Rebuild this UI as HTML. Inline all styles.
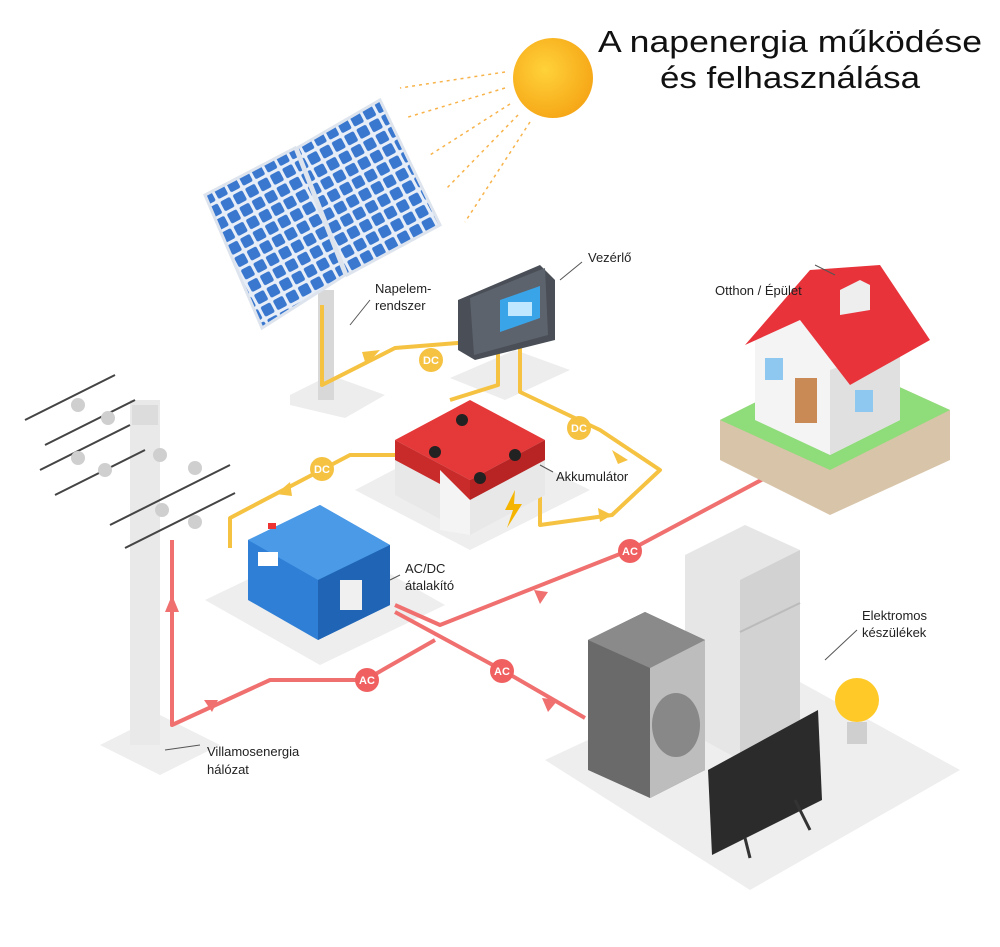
<!DOCTYPE html>
<html><head><meta charset="utf-8"><style>
html,body{margin:0;padding:0;background:#fff;}
svg{display:block;font-family:"Liberation Sans",sans-serif;}
.lbl{font-size:13px;fill:#222;}
.bt{font-size:11px;font-weight:bold;fill:#fff;text-anchor:middle;}
</style></head><body>
<svg width="1000" height="947" viewBox="0 0 1000 947" xmlns="http://www.w3.org/2000/svg">
<defs>
<radialGradient id="sun" cx="0.4" cy="0.4" r="0.7"><stop offset="0" stop-color="#ffd23a"/><stop offset="1" stop-color="#f5a213"/></radialGradient>
<pattern id="cells" width="14" height="14" patternUnits="userSpaceOnUse" patternTransform="rotate(-28)"><rect width="14" height="14" fill="#e8eef8"/><rect x="1.5" y="1.5" width="11" height="11" rx="2" fill="#3a78cf"/></pattern>
</defs>
<rect width="1000" height="947" fill="#fff"/>

<text x="598" y="52" font-size="31" textLength="384" lengthAdjust="spacingAndGlyphs" fill="#111">A napenergia működése</text>
<text x="660" y="88" font-size="31" textLength="260" lengthAdjust="spacingAndGlyphs" fill="#111">és felhasználása</text>

<circle cx="553" cy="78" r="40" fill="url(#sun)"/>
<g stroke="#f7b34a" stroke-width="1.5" stroke-dasharray="3,4" fill="none">
<line x1="505" y1="72" x2="400" y2="88"/><line x1="505" y1="88" x2="405" y2="118"/>
<line x1="510" y1="104" x2="430" y2="155"/><line x1="518" y1="115" x2="445" y2="190"/>
<line x1="530" y1="122" x2="465" y2="222"/>
</g>

<polygon points="290,395 330,375 385,395 345,418 290,405" fill="#ededed"/>
<polygon points="450,378 515,350 570,370 505,400" fill="#ededed"/>
<polygon points="355,490 470,430 590,490 470,550" fill="#eeeeee"/>
<polygon points="205,600 330,540 445,605 320,665" fill="#eeeeee"/>
<polygon points="100,745 160,715 220,745 160,775" fill="#eeeeee"/>
<polygon points="545,760 760,660 960,770 750,890" fill="#eeeeee"/>

<rect x="318" y="290" width="16" height="110" fill="#d8d8d8"/>
<polygon points="205,195 295,148 345,275 262,328" fill="url(#cells)" stroke="#dde4ee" stroke-width="3"/>
<polygon points="297,148 380,100 440,225 347,275" fill="url(#cells)" stroke="#dde4ee" stroke-width="3"/>

<g stroke="#f5c242" stroke-width="4" fill="none" stroke-linejoin="round">
<path d="M322,305 L322,385 L395,348 L470,342"/>
<path d="M520,345 L520,392 L600,430 L660,470 L612,515 L540,525 L540,490"/>
<path d="M395,455 L350,455 L230,518 L230,548"/>
<path d="M498,345 L498,385 L450,400"/>
</g>
<g fill="#f5c242">
<polygon points="380,350 366,365 362,352"/>
<polygon points="628,460 612,450 618,464"/>
<polygon points="612,515 598,508 600,522"/>
<polygon points="276,494 290,482 292,496"/>
</g>
<g fill="#f5c242">
<circle cx="431" cy="360" r="12"/><circle cx="579" cy="428" r="12"/><circle cx="322" cy="469" r="12"/>
</g>
<text class="bt" x="431" y="364">DC</text><text class="bt" x="579" y="432">DC</text><text class="bt" x="322" y="473">DC</text>

<polygon points="458,300 540,265 555,280 555,340 475,360 458,350" fill="#4a4f57"/>
<polygon points="470,298 545,268 548,335 474,355" fill="#5d636c"/>
<polygon points="500,300 540,286 540,318 500,332" fill="#3aa4e8"/>
<rect x="508" y="302" width="24" height="14" fill="#bfe7ff"/>

<polygon points="395,450 470,410 545,445 545,495 470,535 395,495" fill="#e8e8e8"/>
<polygon points="395,440 470,400 545,440 470,480" fill="#e53838"/>
<polygon points="395,440 470,480 470,500 395,460" fill="#c92b2b"/>
<polygon points="470,480 545,440 545,460 470,500" fill="#b82424"/>
<polygon points="440,470 440,530 470,535 470,500" fill="#f4f4f4"/>
<g fill="#222"><circle cx="435" cy="452" r="6"/><circle cx="480" cy="478" r="6"/><circle cx="515" cy="455" r="6"/><circle cx="462" cy="420" r="6"/></g>
<path d="M515,490 L505,510 L513,510 L507,528 L522,504 L514,504 Z" fill="#f5b400"/>

<polygon points="248,540 320,505 390,545 390,605 318,640 248,600" fill="#2f7fd6"/>
<polygon points="248,540 320,505 390,545 318,580" fill="#4a9ae8"/>
<polygon points="318,580 390,545 390,605 318,640" fill="#1f64b5"/>
<rect x="258" y="552" width="20" height="14" fill="#fff"/>
<rect x="340" y="580" width="22" height="30" fill="#f0f0f0"/>
<rect x="268" y="523" width="8" height="6" fill="#e33"/>

<rect x="130" y="400" width="30" height="345" fill="#e9e9e9"/>
<rect x="132" y="405" width="26" height="20" fill="#dcdcdc"/>
<g stroke="#444" stroke-width="2">
<line x1="25" y1="420" x2="115" y2="375"/><line x1="45" y1="445" x2="135" y2="400"/>
<line x1="40" y1="470" x2="130" y2="425"/><line x1="55" y1="495" x2="145" y2="450"/>
<line x1="110" y1="525" x2="230" y2="465"/><line x1="125" y1="548" x2="235" y2="493"/>
</g>
<g fill="#cfcfcf"><circle cx="78" cy="405" r="7"/><circle cx="108" cy="418" r="7"/><circle cx="78" cy="458" r="7"/><circle cx="105" cy="470" r="7"/><circle cx="160" cy="455" r="7"/><circle cx="195" cy="468" r="7"/><circle cx="162" cy="510" r="7"/><circle cx="195" cy="522" r="7"/></g>

<g stroke="#f07070" stroke-width="4" fill="none" stroke-linejoin="round">
<path d="M395,605 L440,625 L630,550 L765,478"/>
<path d="M395,612 L502,670 L585,718"/>
<path d="M172,540 L172,725 L270,680 L365,680 L435,640"/>
</g>
<g fill="#f07070">
<polygon points="172,595 165,612 179,612"/>
<polygon points="218,700 204,700 212,712"/>
<polygon points="548,592 534,590 540,604"/>
<polygon points="558,700 542,698 548,712"/>
</g>
<g fill="#f06060"><circle cx="630" cy="551" r="12"/><circle cx="502" cy="671" r="12"/><circle cx="367" cy="680" r="12"/></g>
<text class="bt" x="630" y="555">AC</text><text class="bt" x="502" y="675">AC</text><text class="bt" x="367" y="684">AC</text>

<polygon points="720,420 840,360 950,410 950,460 830,515 720,460" fill="#d8c4a8"/>
<polygon points="720,420 840,360 950,410 830,470" fill="#8fdc7a"/>
<polygon points="755,340 830,305 900,345 900,420 830,455 755,420" fill="#f4f4f4"/>
<polygon points="830,370 900,345 900,420 830,455" fill="#e0e0e0"/>
<polygon points="745,345 810,270 880,265 930,340 850,385 800,320" fill="#e8333a"/>
<polygon points="840,290 860,280 870,285 870,310 840,315" fill="#eee"/>
<rect x="795" y="378" width="22" height="45" fill="#c98a55"/>
<rect x="765" y="358" width="18" height="22" fill="#8ec8f0"/>
<rect x="855" y="390" width="18" height="22" fill="#8ec8f0"/>

<polygon points="685,555 745,525 800,550 800,730 740,760 685,730" fill="#e6e6e6"/>
<polygon points="740,580 800,550 800,730 740,760" fill="#d2d2d2"/>
<line x1="740" y1="632" x2="800" y2="603" stroke="#bbb" stroke-width="2"/>
<polygon points="588,640 645,612 705,640 705,770 650,798 588,770" fill="#6a6a6a"/>
<polygon points="588,640 645,612 705,640 650,668" fill="#8a8a8a"/>
<polygon points="650,668 705,640 705,770 650,798" fill="#bdbdbd"/>
<ellipse cx="676" cy="725" rx="24" ry="32" fill="#888"/>
<polygon points="708,770 818,710 822,800 712,855" fill="#2b2b2b"/>
<line x1="745" y1="838" x2="750" y2="858" stroke="#333" stroke-width="3"/>
<line x1="795" y1="800" x2="810" y2="830" stroke="#333" stroke-width="3"/>
<circle cx="857" cy="700" r="22" fill="#ffc928"/>
<rect x="847" y="722" width="20" height="22" fill="#cfcfcf"/>

<g stroke="#555" stroke-width="1" fill="none">
<path d="M370,300 L350,325"/><path d="M582,262 L560,280"/><path d="M815,265 L835,275"/>
<path d="M553,472 L540,465"/><path d="M400,575 L390,580"/><path d="M857,630 L825,660"/><path d="M200,745 L165,750"/>
</g>

<text class="lbl" x="375" y="293">Napelem-</text><text class="lbl" x="375" y="310">rendszer</text>
<text class="lbl" x="588" y="262">Vezérlő</text>
<text class="lbl" x="715" y="295">Otthon / Épület</text>
<text class="lbl" x="556" y="481">Akkumulátor</text>
<text class="lbl" x="405" y="573">AC/DC</text><text class="lbl" x="405" y="590">átalakító</text>
<text class="lbl" x="862" y="620">Elektromos</text><text class="lbl" x="862" y="637">készülékek</text>
<text class="lbl" x="207" y="756">Villamosenergia</text><text class="lbl" x="207" y="774">hálózat</text>
</svg>
</body></html>
